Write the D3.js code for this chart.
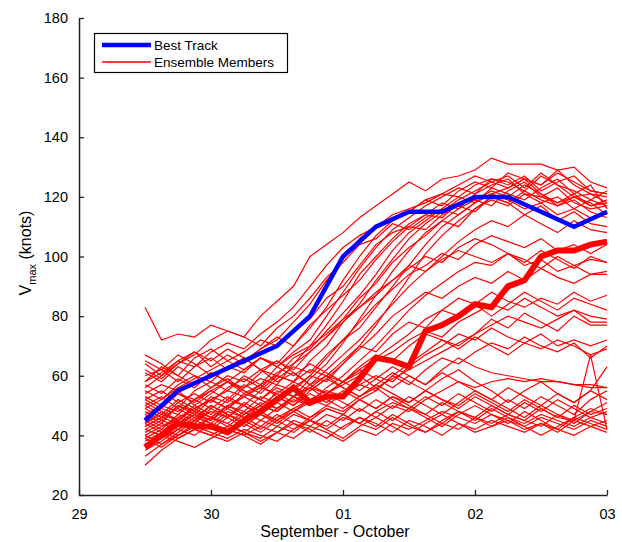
<!DOCTYPE html>
<html lang="en">
<head>
    <meta charset="UTF-8">
    <title>Vmax ensemble</title>
    <script src="https://d3js.org/d3.v7.min.js"></script>
    <style>
        body { margin: 0; background: white; }
        text { font-family: "Liberation Sans", Arial, sans-serif; fill: black; }
    </style>
</head>
<body>
<svg id="main" width="622" height="542"></svg>
<script>
    // hours after 29 Sep 12Z
    let memberHours = [0, 3, 6, 9, 12, 15, 18, 21, 24, 27, 30, 33, 36, 39, 42, 45, 48, 51, 54, 57, 60, 63, 66, 69, 72, 75, 78, 81, 84];
    let bestHours = [0, 6, 12, 18, 24, 30, 36, 42, 48, 54, 60, 66, 72, 78, 84];

    let bestTrack = [45, 55, 60, 65, 70, 80, 100, 110, 115, 115, 120, 120, 115, 110, 115];

    // the thick red bundle
    let thickMember = [36, 40, 44, 43, 43, 41, 45, 48, 52, 56, 51, 53, 53, 59, 66, 65, 63, 75, 77, 80, 84, 83, 90, 92, 100, 102, 102, 104, 105];

    let members = [
        // strong ones
        [83, 72, 74, 73, 77, 75, 73, 80, 85, 90, 100, 104, 108, 113, 117, 121, 125, 122, 126, 127, 129, 133, 131, 131, 131, 129, 130, 125, 123],
        [60, 62, 58, 63, 66, 62, 65, 69, 72, 78, 84, 92, 99, 106, 110, 114, 116, 118, 121, 120, 124, 126, 125, 122, 127, 124, 120, 121, 120],
        [55, 52, 57, 60, 58, 63, 61, 66, 64, 70, 76, 83, 92, 100, 107, 112, 115, 119, 117, 122, 125, 123, 128, 126, 124, 129, 124, 121, 118],
        [50, 53, 49, 55, 58, 55, 60, 57, 63, 68, 72, 80, 88, 96, 103, 109, 113, 117, 120, 123, 121, 126, 124, 127, 122, 125, 127, 122, 121],
        [47, 44, 50, 48, 53, 51, 56, 59, 57, 64, 70, 77, 85, 94, 100, 106, 111, 114, 118, 116, 121, 124, 126, 121, 120, 123, 118, 116, 117],
        [58, 63, 60, 66, 69, 65, 68, 72, 70, 75, 79, 86, 90, 97, 104, 108, 110, 114, 113, 118, 119, 122, 120, 124, 121, 117, 119, 115, 113],
        [44, 47, 45, 50, 47, 52, 50, 55, 60, 58, 65, 70, 78, 84, 92, 99, 106, 111, 115, 119, 122, 125, 127, 123, 128, 124, 122, 119, 122],
        [52, 49, 54, 52, 56, 60, 58, 62, 60, 66, 69, 75, 81, 87, 94, 102, 108, 112, 116, 120, 118, 123, 121, 119, 123, 126, 121, 117, 119],
        [40, 43, 46, 44, 49, 46, 51, 48, 55, 53, 59, 64, 71, 79, 87, 95, 102, 108, 112, 116, 119, 117, 122, 125, 120, 118, 121, 124, 116],
        [64, 60, 65, 68, 63, 67, 64, 69, 73, 70, 77, 82, 87, 92, 99, 105, 110, 109, 114, 117, 115, 120, 118, 114, 117, 112, 115, 111, 110],
        [46, 49, 47, 52, 55, 52, 57, 54, 59, 63, 61, 67, 72, 76, 83, 90, 97, 104, 110, 114, 118, 121, 123, 126, 124, 128, 125, 122, 121],
        [42, 40, 44, 47, 45, 50, 48, 53, 51, 56, 60, 58, 64, 70, 77, 85, 93, 101, 107, 112, 116, 120, 118, 122, 119, 117, 120, 118, 114],
        [54, 57, 55, 50, 54, 58, 56, 61, 65, 62, 68, 73, 79, 86, 91, 98, 103, 107, 112, 110, 116, 119, 117, 121, 118, 120, 116, 113, 115],
        [58, 61, 65, 63, 68, 71, 69, 74, 78, 83, 90, 97, 103, 107, 110, 112, 115, 119, 121, 124, 127, 125, 123, 126, 121, 118, 120, 117, 118],
        [62, 59, 64, 67, 72, 75, 73, 70, 76, 80, 86, 93, 98, 104, 106, 111, 109, 113, 116, 114, 118, 121, 119, 116, 118, 114, 116, 119, 117],
        [39, 36, 40, 43, 46, 44, 48, 45, 49, 53, 57, 62, 67, 72, 78, 84, 90, 95, 100, 105, 109, 112, 110, 114, 111, 108, 112, 109, 108],
        // middle
        [48, 45, 50, 47, 52, 49, 54, 52, 57, 55, 60, 66, 72, 78, 84, 89, 94, 97, 101, 99, 104, 107, 105, 103, 106, 102, 104, 101, 104],
        [43, 46, 44, 48, 46, 43, 47, 50, 48, 53, 51, 56, 60, 65, 70, 76, 82, 87, 91, 95, 98, 97, 101, 99, 96, 100, 97, 99, 98],
        [57, 54, 59, 56, 61, 58, 62, 66, 63, 67, 70, 74, 79, 83, 88, 92, 97, 95, 99, 102, 100, 98, 101, 97, 99, 95, 97, 94, 95],
        [45, 42, 47, 45, 50, 47, 45, 49, 53, 50, 55, 59, 64, 69, 74, 80, 84, 88, 86, 90, 93, 91, 95, 92, 96, 93, 91, 94, 94],
        [49, 46, 51, 54, 51, 56, 59, 56, 61, 64, 68, 73, 78, 83, 87, 92, 96, 100, 98, 103, 106, 104, 101, 98, 102, 99, 96, 100, 98],
        [41, 44, 42, 46, 44, 48, 46, 50, 48, 52, 50, 54, 58, 62, 66, 70, 74, 79, 82, 80, 84, 88, 85, 83, 86, 84, 88, 85, 87],
        [44, 48, 45, 49, 52, 49, 53, 56, 54, 58, 62, 60, 65, 70, 68, 74, 78, 76, 82, 86, 84, 80, 84, 88, 85, 82, 86, 84, 82],
        [50, 47, 52, 49, 46, 50, 47, 51, 49, 53, 56, 54, 58, 61, 65, 68, 72, 75, 73, 78, 81, 84, 82, 86, 83, 80, 82, 78, 78],
        [65, 62, 67, 64, 60, 63, 66, 62, 58, 61, 57, 54, 57, 60, 56, 59, 62, 65, 68, 71, 74, 77, 80, 78, 76, 79, 82, 80, 79],
        [39, 42, 40, 44, 42, 46, 43, 47, 45, 49, 52, 50, 54, 57, 55, 60, 64, 68, 72, 70, 74, 79, 76, 81, 78, 75, 80, 77, 77],
        [51, 48, 45, 49, 46, 50, 53, 50, 54, 51, 56, 60, 58, 63, 67, 65, 70, 74, 72, 69, 73, 70, 67, 71, 74, 70, 72, 70, 72],
        [53, 50, 48, 52, 49, 53, 50, 47, 51, 48, 52, 55, 53, 57, 60, 58, 63, 67, 70, 74, 72, 76, 73, 71, 69, 72, 70, 67, 69],
        [46, 43, 45, 42, 46, 44, 41, 45, 43, 47, 45, 49, 47, 52, 55, 60, 57, 62, 66, 64, 68, 71, 69, 73, 70, 68, 71, 66, 70],
        // weak ones
        [36, 39, 42, 40, 44, 42, 40, 43, 41, 45, 43, 47, 45, 49, 46, 50, 48, 52, 55, 58, 56, 58, 59, 58, 59, 58, 57, 57, 56],
        [38, 41, 39, 42, 40, 38, 41, 39, 43, 41, 45, 42, 46, 44, 48, 45, 49, 47, 44, 48, 46, 50, 47, 45, 49, 46, 45, 67, 42],
        [33, 37, 40, 43, 41, 39, 42, 40, 38, 42, 45, 43, 47, 44, 42, 46, 43, 41, 45, 48, 46, 44, 47, 45, 43, 47, 45, 48, 51],
        [30, 35, 39, 42, 40, 43, 41, 38, 41, 44, 42, 39, 43, 46, 44, 41, 45, 43, 40, 44, 42, 45, 43, 41, 44, 42, 40, 43, 45],
        [42, 45, 43, 47, 44, 41, 45, 42, 46, 49, 46, 50, 48, 52, 49, 53, 51, 55, 52, 50, 54, 51, 48, 52, 49, 46, 50, 47, 49],
        [61, 58, 63, 60, 56, 59, 55, 52, 56, 53, 50, 54, 51, 48, 52, 49, 53, 50, 47, 51, 55, 52, 49, 46, 50, 47, 44, 48, 47],
        [67, 64, 60, 57, 61, 58, 54, 57, 53, 50, 54, 51, 55, 52, 49, 53, 50, 47, 51, 48, 45, 49, 46, 44, 47, 45, 43, 46, 44],
        [44, 41, 46, 49, 52, 55, 53, 57, 60, 58, 55, 59, 56, 53, 57, 54, 51, 55, 52, 49, 53, 50, 47, 51, 48, 52, 49, 46, 48],
        [49, 52, 56, 59, 62, 65, 62, 66, 63, 60, 64, 61, 58, 62, 59, 56, 60, 57, 62, 66, 63, 61, 60, 59, 58, 58, 57, 56, 56],
        [37, 40, 38, 36, 39, 42, 40, 37, 41, 39, 43, 41, 38, 42, 40, 44, 42, 45, 48, 46, 44, 47, 45, 43, 46, 44, 42, 45, 43],
        [56, 60, 64, 68, 65, 69, 66, 62, 65, 61, 57, 60, 56, 53, 56, 52, 49, 53, 50, 54, 51, 48, 52, 49, 53, 50, 47, 52, 55],
        [40, 37, 41, 45, 48, 46, 50, 47, 44, 48, 51, 54, 58, 55, 59, 63, 60, 57, 61, 58, 55, 52, 56, 53, 50, 54, 51, 55, 63],
        [52, 55, 51, 48, 45, 49, 46, 43, 47, 44, 41, 45, 42, 46, 43, 47, 44, 41, 44, 42, 46, 43, 45, 42, 44, 41, 45, 43, 41],
        [43, 46, 49, 46, 50, 47, 44, 48, 45, 42, 46, 49, 47, 44, 48, 51, 49, 46, 43, 47, 50, 47, 44, 48, 45, 42, 46, 49, 47],
        [35, 38, 42, 45, 43, 47, 44, 41, 45, 48, 45, 42, 39, 43, 46, 43, 40, 44, 47, 44, 41, 43, 46, 43, 40, 43, 46, 44, 42],
        [47, 50, 54, 51, 55, 58, 55, 52, 49, 53, 56, 52, 49, 53, 57, 61, 58, 55, 59, 62, 58, 55, 51, 55, 58, 54, 51, 55, 52]
    ];

    let xTickLabels = ["29", "30", "01", "02", "03"];
    let yTicks = [20, 40, 60, 80, 100, 120, 140, 160, 180];
    let legendLabels = ["Best Track", "Ensemble Members"];

    let svg = d3.select('svg#main');
    let margins = {left: 79, right: 15, top: 18, bottom: 47};
    let width = +svg.attr('width'), height = +svg.attr('height');

    // x in days after 29 Sep 00Z
    let scaleX = d3.scaleLinear().domain([0, 4]).range([margins.left, width - margins.right]);
    let scaleY = d3.scaleLinear().domain([20, 180]).range([height - margins.bottom, margins.top]);

    let toDay = function (h) { return 0.5 + h / 24; };

    let memberLine = d3.line()
        .x(function (d, i) { return scaleX(toDay(memberHours[i])); })
        .y(function (d) { return scaleY(d); });
    let bestLine = d3.line()
        .x(function (d, i) { return scaleX(toDay(bestHours[i])); })
        .y(function (d) { return scaleY(d); });

    let fig = svg.append('g');
    fig.selectAll('path.member')
        .data(members)
        .enter()
        .append('path')
        .attr('class', 'member')
        .attr('d', memberLine)
        .style('fill', 'none')
        .style('stroke', '#ff0000')
        .style('stroke-width', '1.2px');

    fig.append('path')
        .datum(thickMember)
        .attr('d', memberLine)
        .style('fill', 'none')
        .style('stroke', '#ff0000')
        .style('stroke-width', '6px');

    fig.append('path')
        .datum(bestTrack)
        .attr('d', bestLine)
        .style('fill', 'none')
        .style('stroke', '#0000ff')
        .style('stroke-width', '4.5px');

    // axes, ticks inside
    let xAxis = svg.append('g')
        .attr('transform', 'translate(0,' + scaleY(20) + ')')
        .call(d3.axisBottom(scaleX).tickValues([0, 1, 2, 3, 4])
            .tickFormat(function (d, i) { return xTickLabels[i]; })
            .tickSizeInner(-5).tickSizeOuter(0).tickPadding(14));
    let yAxis = svg.append('g')
        .attr('transform', 'translate(' + margins.left + ',0)')
        .call(d3.axisLeft(scaleY).tickValues(yTicks)
            .tickSizeInner(-5).tickSizeOuter(0).tickPadding(11));

    svg.selectAll('.domain').style('stroke', '#222').style('stroke-width', '1.5px');
    svg.selectAll('.tick line').style('stroke', '#222').style('stroke-width', '1.3px');
    svg.selectAll('.tick text').style('font-size', '14.5px')
        .style('font-family', '"Liberation Sans", Arial, sans-serif');

    // axis titles
    svg.append('text')
        .attr('x', 335).attr('y', 537)
        .attr('text-anchor', 'middle')
        .style('font-size', '16px')
        .text('September - October');

    let yTitle = svg.append('text')
        .attr('transform', 'translate(31,253) rotate(-90)')
        .attr('text-anchor', 'middle')
        .style('font-size', '16px');
    yTitle.append('tspan').text('V');
    yTitle.append('tspan').attr('dy', 5).style('font-size', '11px').text('max');
    yTitle.append('tspan').attr('dy', -5).text(' (knots)');

    // legend
    let legend = svg.append('g');
    legend.append('rect')
        .attr('x', 94.5).attr('y', 33.5).attr('width', 193).attr('height', 39)
        .style('fill', 'white').style('stroke', 'black').style('stroke-width', '1.2px');
    let legendStyles = [{c: '#0000ff', w: 4.5}, {c: '#ff0000', w: 1.3}];
    legendLabels.forEach(function (lab, i) {
        let yy = 45 + i * 17;
        legend.append('line')
            .attr('x1', 102).attr('x2', 151).attr('y1', yy).attr('y2', yy)
            .style('stroke', legendStyles[i].c).style('stroke-width', legendStyles[i].w + 'px');
        legend.append('text')
            .attr('x', 154).attr('y', yy + 5)
            .style('font-size', '13.5px')
            .text(lab);
    });
</script>
</body>
</html>
